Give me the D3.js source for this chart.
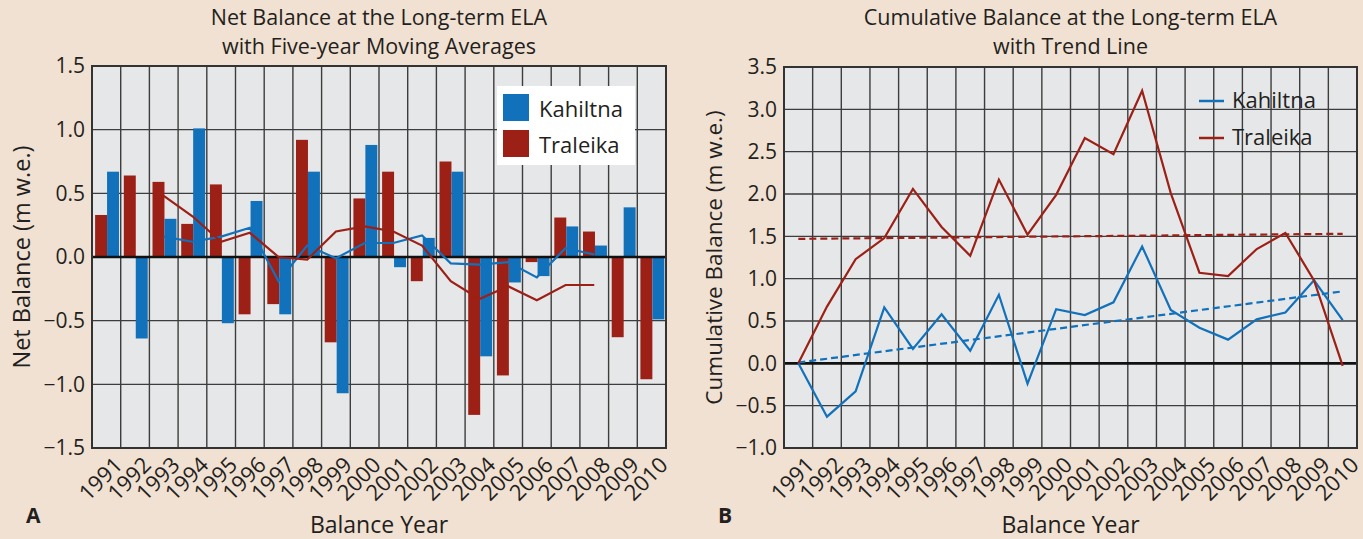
<!DOCTYPE html>
<html>
<head>
<meta charset="utf-8">
<script src="https://cdn.jsdelivr.net/npm/d3@7"></script>
<style>
  body { margin: 0; background: #f1e1d2; }
  svg { display: block; font-family: "Open Sans", sans-serif; }
</style>
</head>
<body>
<div id="chart"></div>
<script>
// balance years
const years = ['1991', '1992', '1993', '1994', '1995', '1996', '1997', '1998', '1999', '2000',
  '2001', '2002', '2003', '2004', '2005', '2006', '2007', '2008', '2009', '2010'];

// panel A: annual net balance (m w.e.)
const kahiltnaNet = [0.67, -0.64, 0.30, 1.01, -0.52, 0.44, -0.45, 0.67, -1.07, 0.88,
  -0.08, 0.15, 0.67, -0.78, -0.20, -0.15, 0.24, 0.09, 0.39, -0.49];
const traleikaNet = [0.33, 0.64, 0.59, 0.26, 0.57, -0.45, -0.37, 0.92, -0.67, 0.46,
  0.67, -0.19, 0.75, -1.24, -0.93, -0.04, 0.31, 0.20, -0.63, -0.96];

// five-year moving averages (centred, none for the first and last two years)
const kahiltnaAvg = [null, null, 0.16, 0.12, 0.16, 0.23, -0.19, 0.09, -0.01, 0.11,
  0.11, 0.17, -0.05, -0.06, -0.04, -0.16, 0.07, 0.02, null, null];
const traleikaAvg = [null, null, 0.48, 0.32, 0.12, 0.19, 0.00, -0.02, 0.20, 0.24,
  0.20, 0.09, -0.19, -0.33, -0.23, -0.34, -0.22, -0.22, null, null];

// panel B: cumulative balance (m w.e.)
const kahiltnaCum = [0, -0.63, -0.33, 0.66, 0.17, 0.58, 0.15, 0.81, -0.24, 0.64,
  0.57, 0.72, 1.38, 0.63, 0.42, 0.28, 0.52, 0.60, 0.98, 0.51];
const traleikaCum = [0, 0.67, 1.23, 1.48, 2.06, 1.61, 1.27, 2.17, 1.52, 1.99,
  2.66, 2.47, 3.22, 2.01, 1.07, 1.03, 1.35, 1.54, 0.98, -0.03];

// trend lines, value at 1991 and at 2010
const kahiltnaTrend = [0.01, 0.85];
const traleikaTrend = [1.47, 1.53];

const ticksA = [-1.5, -1.0, -0.5, 0.0, 0.5, 1.0, 1.5];
const ticksB = [-1.0, -0.5, 0.0, 0.5, 1.0, 1.5, 2.0, 2.5, 3.0, 3.5];

const width = 1363;
const height = 539;
const blue = '#1271bb';
const red = '#9c2016';
const ink = '#231f20';
const gridColor = '#3d3d3d';
const fmt = d3.format('.1f');

const svg = d3.create('svg')
  .attr('width', width)
  .attr('height', height);

d3.select('#chart')
  .append(() => svg.node());

// plot background, grid, axes and titles shared by both panels
function frame(x, y, ticks, title, yTitle, yTitleSize, letter) {
  const [x0, x1] = x.range();
  const [y0, y1] = y.range();
  const g = svg.append('g');

  g.append('rect')
    .attr('x', x0)
    .attr('y', y1)
    .attr('width', x1 - x0)
    .attr('height', y0 - y1)
    .attr('fill', '#e6e7e9');

  g.selectAll('.hgrid')
    .data(ticks)
    .join('line')
    .attr('x1', x0)
    .attr('x2', x1)
    .attr('y1', d => y(d))
    .attr('y2', d => y(d))
    .attr('stroke', gridColor)
    .attr('stroke-width', 1.4);

  g.selectAll('.vgrid')
    .data(x.domain().slice(1))
    .join('line')
    .attr('x1', d => x(d))
    .attr('x2', d => x(d))
    .attr('y1', y1)
    .attr('y2', y0)
    .attr('stroke', gridColor)
    .attr('stroke-width', 1.4);

  const yAxis = d3.axisLeft(y)
    .tickValues(ticks)
    .tickSize(0)
    .tickPadding(7)
    .tickFormat(fmt);

  svg.append('g')
    .attr('transform', `translate(${x0}, 0)`)
    .call(yAxis)
    .call(a => a.select('.domain').remove())
    .selectAll('text')
    .attr('font-size', 21)
    .attr('font-family', '"Open Sans", sans-serif')
    .attr('fill', ink);

  const xAxis = d3.axisBottom(x).tickSize(0);

  svg.append('g')
    .attr('transform', `translate(0, ${y0})`)
    .call(xAxis)
    .call(a => a.select('.domain').remove())
    .selectAll('text')
    .attr('x', 0)
    .attr('y', 0)
    .attr('dy', '0.35em')
    .attr('text-anchor', 'end')
    .attr('transform', 'translate(12, 13) rotate(-45)')
    .attr('font-size', 22)
    .attr('font-family', '"Open Sans", sans-serif')
    .attr('fill', ink);

  const cx = (x0 + x1) / 2;
  svg.append('text')
    .attr('x', cx)
    .attr('y', 25)
    .attr('text-anchor', 'middle')
    .attr('font-size', 21.5)
    .attr('fill', ink)
    .text(title[0]);

  svg.append('text')
    .attr('x', cx)
    .attr('y', 54)
    .attr('text-anchor', 'middle')
    .attr('font-size', 21.5)
    .attr('fill', ink)
    .text(title[1]);

  svg.append('text')
    .attr('x', -(y0 + y1) / 2)
    .attr('y', x0 - 62)
    .attr('text-anchor', 'middle')
    .attr('transform', 'rotate(-90)')
    .attr('font-size', yTitleSize)
    .attr('fill', ink)
    .text(yTitle);

  svg.append('text')
    .attr('x', cx)
    .attr('y', 533)
    .attr('text-anchor', 'middle')
    .attr('font-size', 23)
    .attr('fill', ink)
    .text('Balance Year');

  svg.append('text')
    .attr('x', x0 - 66)
    .attr('y', 523)
    .attr('font-size', 21)
    .attr('font-weight', 'bold')
    .attr('fill', ink)
    .text(letter);

  return g;
}

function zeroAndBorder(x, y) {
  const [x0, x1] = x.range();
  const [y0, y1] = y.range();
  svg.append('line')
    .attr('x1', x0)
    .attr('x2', x1)
    .attr('y1', y(0))
    .attr('y2', y(0))
    .attr('stroke', '#111')
    .attr('stroke-width', 2.6);

  svg.append('rect')
    .attr('x', x0)
    .attr('y', y1)
    .attr('width', x1 - x0)
    .attr('height', y0 - y1)
    .attr('fill', 'none')
    .attr('stroke', '#333')
    .attr('stroke-width', 2);
}

// ---------- panel A ----------
const xA = d3.scaleBand()
  .domain(years)
  .range([92, 666]);

const yA = d3.scaleLinear()
  .domain([-1.5, 1.5])
  .range([448, 66]);

const seriesBand = d3.scaleBand()
  .domain(['Traleika', 'Kahiltna'])
  .range([0, xA.bandwidth()])
  .paddingOuter(0.2)
  .align(0.65);

frame(xA, yA, ticksA,
  ['Net Balance at the Long-term ELA', 'with Five-year Moving Averages'],
  'Net Balance (m w.e.)', 23.5, 'A');

const bars = [];
years.forEach((yr, i) => {
  bars.push({ year: yr, series: 'Traleika', value: traleikaNet[i] });
  bars.push({ year: yr, series: 'Kahiltna', value: kahiltnaNet[i] });
});

svg.append('g')
  .selectAll('rect')
  .data(bars)
  .join('rect')
  .attr('x', d => xA(d.year) + seriesBand(d.series))
  .attr('width', seriesBand.bandwidth())
  .attr('y', d => yA(Math.max(0, d.value)))
  .attr('height', d => Math.abs(yA(d.value) - yA(0)))
  .attr('fill', d => d.series === 'Kahiltna' ? blue : red);

zeroAndBorder(xA, yA);

const lineA = d3.line()
  .defined(d => d.value !== null)
  .x(d => xA(d.year) + xA.bandwidth() / 2)
  .y(d => yA(d.value));

[[kahiltnaAvg, blue], [traleikaAvg, red]].forEach(([vals, color]) => {
  svg.append('path')
    .datum(years.map((yr, i) => ({ year: yr, value: vals[i] })))
    .attr('d', lineA)
    .attr('fill', 'none')
    .attr('stroke', color)
    .attr('stroke-width', 2.2);
});

// legend A
const legA = svg.append('g').attr('transform', 'translate(497, 86)');
legA.append('rect')
  .attr('width', 138)
  .attr('height', 79)
  .attr('fill', '#fff');

[['Kahiltna', blue], ['Traleika', red]].forEach(([name, color], i) => {
  legA.append('rect')
    .attr('x', 6)
    .attr('y', 8 + i * 36)
    .attr('width', 26)
    .attr('height', 27)
    .attr('fill', color);
  legA.append('text')
    .attr('x', 42)
    .attr('y', 31 + i * 36)
    .attr('font-size', 22)
    .attr('fill', ink)
    .text(name);
});

// ---------- panel B ----------
const xB = d3.scaleBand()
  .domain(years)
  .range([784, 1357]);

const yB = d3.scaleLinear()
  .domain([-1.0, 3.5])
  .range([448, 67]);

frame(xB, yB, ticksB,
  ['Cumulative Balance at the Long-term ELA', 'with Trend Line'],
  'Cumulative Balance (m w.e.)', 22.5, 'B');

zeroAndBorder(xB, yB);

const lineB = d3.line()
  .x(d => xB(d.year) + xB.bandwidth() / 2)
  .y(d => yB(d.value));

[[kahiltnaTrend, blue], [traleikaTrend, red]].forEach(([vals, color]) => {
  svg.append('path')
    .datum([{ year: years[0], value: vals[0] }, { year: years[years.length - 1], value: vals[1] }])
    .attr('d', lineB)
    .attr('fill', 'none')
    .attr('stroke', color)
    .attr('stroke-width', 2.2)
    .attr('stroke-dasharray', '7,4');
});

[[kahiltnaCum, blue], [traleikaCum, red]].forEach(([vals, color]) => {
  svg.append('path')
    .datum(years.map((yr, i) => ({ year: yr, value: vals[i] })))
    .attr('d', lineB)
    .attr('fill', 'none')
    .attr('stroke', color)
    .attr('stroke-width', 2.2);
});

// legend B
[['Kahiltna', blue], ['Traleika', red]].forEach(([name, color], i) => {
  svg.append('line')
    .attr('x1', 1199)
    .attr('x2', 1224)
    .attr('y1', 101 + i * 37)
    .attr('y2', 101 + i * 37)
    .attr('stroke', color)
    .attr('stroke-width', 2.5);
  svg.append('text')
    .attr('x', 1232)
    .attr('y', 108 + i * 37)
    .attr('font-size', 22)
    .attr('fill', ink)
    .text(name);
});
</script>
</body>
</html>
